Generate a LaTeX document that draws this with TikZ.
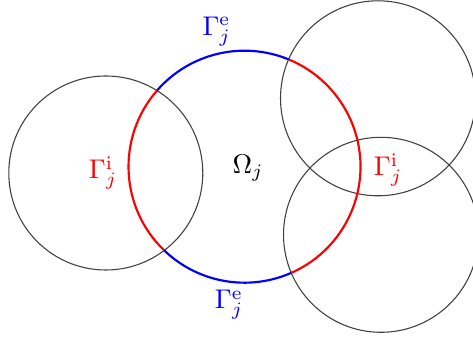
\documentclass[tikz,border=0pt]{standalone}
\usepackage{tikz}
\usetikzlibrary{positioning}
\tikzset{
  voisin/.style={draw=black!75, line width=0.4pt},
  bordi/.style={draw=red, line width=0.8pt},
  borde/.style={draw=blue, line width=0.8pt},
  etiquette/.style={inner sep=1pt}
}
\begin{document}
\begin{tikzpicture}[x=0.013cm, y=0.013cm]
  \useasboundingbox (0,0) rectangle (473,339);
  % Sous-domaines voisins
  \draw[voisin] (105.8,166) circle (97);
  \draw[voisin] (378,240.7) circle (97.5);
  \draw[voisin] (381,104.2) circle (97.5);

  % Bord du sous-domaine
  \coordinate (o) at (244.5,172.3);
  \draw[borde] ([shift={(67.6:116)}]o) arc[start angle=67.6, end angle=139, radius=116];
  \draw[bordi] ([shift={(139:116)}]o) arc[start angle=139, end angle=226.2, radius=116];
  \draw[borde] ([shift={(226.2:116)}]o) arc[start angle=226.2, end angle=293.8, radius=116];
  \draw[bordi] ([shift={(-66.2:116)}]o) arc[start angle=-66.2, end angle=67.6, radius=116];

  % Etiquettes
  \node[etiquette] (omega) at (248,171) {$\Omega_j$};
  \node[etiquette, text=blue] (gammaeh) at (216.7,307.3) {$\Gamma_j^{\mathrm{e}}$};
  \node[etiquette, text=blue] (gammaeb) at (229,34) {$\Gamma_j^{\mathrm{e}}$};
  \node[etiquette, text=red] (gammaig) at (103,166) {$\Gamma_j^{\mathrm{i}}$};
  \node[etiquette, text=red] (gammaid) at (388,169) {$\Gamma_j^{\mathrm{i}}$};
\end{tikzpicture}
\end{document}
